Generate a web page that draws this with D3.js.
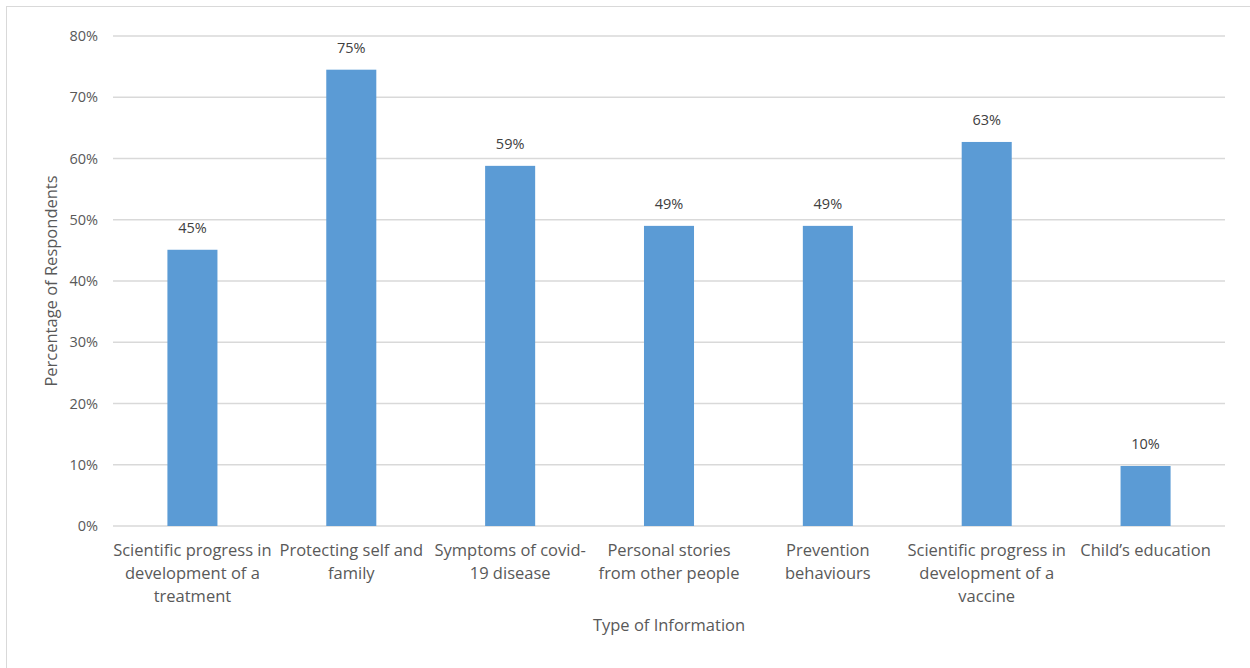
<!DOCTYPE html>
<html>
<head>
<meta charset="utf-8">
<script src="https://cdn.jsdelivr.net/npm/d3@7"></script>
<style>
  body { margin: 0; background: #fff; }
  svg text { font-family: "Open Sans", Lato, sans-serif; fill: #595959; }
</style>
</head>
<body>
<svg id="chart"></svg>
<script>
// data
const categories = [
  ["Scientific progress in", "development of a", "treatment"],
  ["Protecting self and", "family"],
  ["Symptoms of covid-", "19 disease"],
  ["Personal stories", "from other people"],
  ["Prevention", "behaviours"],
  ["Scientific progress in", "development of a", "vaccine"],
  ["Child\u2019s education"]
];
const values = [0.451, 0.745, 0.588, 0.49, 0.49, 0.627, 0.098];
const valueLabels = ["45%", "75%", "59%", "49%", "49%", "63%", "10%"];
const yTicks = [0, 0.1, 0.2, 0.3, 0.4, 0.5, 0.6, 0.7, 0.8];

const width = 1250, height = 668;
const margin = { top: 36, right: 25, bottom: 142, left: 113 };

const svg = d3.select("#chart").attr("width", width).attr("height", height);

svg.append("rect")
  .attr("x", 6.5).attr("y", 6.5)
  .attr("width", width).attr("height", height)
  .attr("fill", "none").attr("stroke", "#d9d9d9");

const ids = categories.map((d, i) => i);

const x = d3.scaleBand()
  .domain(ids)
  .range([margin.left, width - margin.right])
  .paddingInner(0.685)
  .paddingOuter(0.3425);

const y = d3.scaleLinear()
  .domain([0, 0.8])
  .range([height - margin.bottom, margin.top]);

// gridlines
svg.append("g")
  .selectAll("line")
  .data(yTicks)
  .enter()
  .append("line")
  .attr("x1", margin.left)
  .attr("x2", width - margin.right)
  .attr("y1", (d) => y(d))
  .attr("y2", (d) => y(d))
  .attr("stroke", "#d9d9d9")
  .attr("stroke-width", 1.3);

// y axis labels
const yAxis = d3.axisLeft(y).tickValues(yTicks).tickFormat(d3.format(".0%")).tickSize(0).tickPadding(15);
const gy = svg.append("g")
  .attr("transform", `translate(${margin.left},0)`)
  .call(yAxis);
gy.select(".domain").remove();
gy.selectAll("text").style("font-size", "14.5px").attr("fill", "#595959");

// bars
svg.selectAll(".bar")
  .data(values)
  .enter()
  .append("rect")
  .attr("class", "bar")
  .attr("x", (d, i) => x(i))
  .attr("y", (d) => y(d))
  .attr("width", x.bandwidth())
  .attr("height", (d) => y(0) - y(d))
  .attr("fill", "#5b9bd5");

// data labels
svg.selectAll(".label")
  .data(values)
  .enter()
  .append("text")
  .attr("class", "label")
  .attr("x", (d, i) => x(i) + x.bandwidth() / 2)
  .attr("y", (d) => y(d) - 17)
  .attr("text-anchor", "middle")
  .style("font-size", "14.5px")
  .style("fill", "#404040")
  .text((d, i) => valueLabels[i]);

// category labels
const gx = svg.append("g");
categories.forEach((lines, i) => {
  const t = gx.append("text")
    .attr("x", x(i) + x.bandwidth() / 2)
    .attr("y", y(0) + 30)
    .attr("text-anchor", "middle")
    .style("font-size", "16.5px");
  lines.forEach((ln, j) => {
    t.append("tspan")
      .attr("x", x(i) + x.bandwidth() / 2)
      .attr("dy", j === 0 ? 0 : 23)
      .text(ln);
  });
});

// axis titles
svg.append("text")
  .attr("x", (margin.left + width - margin.right) / 2)
  .attr("y", 631)
  .attr("text-anchor", "middle")
  .style("font-size", "16.5px")
  .text("Type of Information");

svg.append("text")
  .attr("transform", `translate(57,${(margin.top + height - margin.bottom) / 2}) rotate(-90)`)
  .attr("text-anchor", "middle")
  .style("font-size", "16.5px")
  .text("Percentage of Respondents");
</script>
</body>
</html>
